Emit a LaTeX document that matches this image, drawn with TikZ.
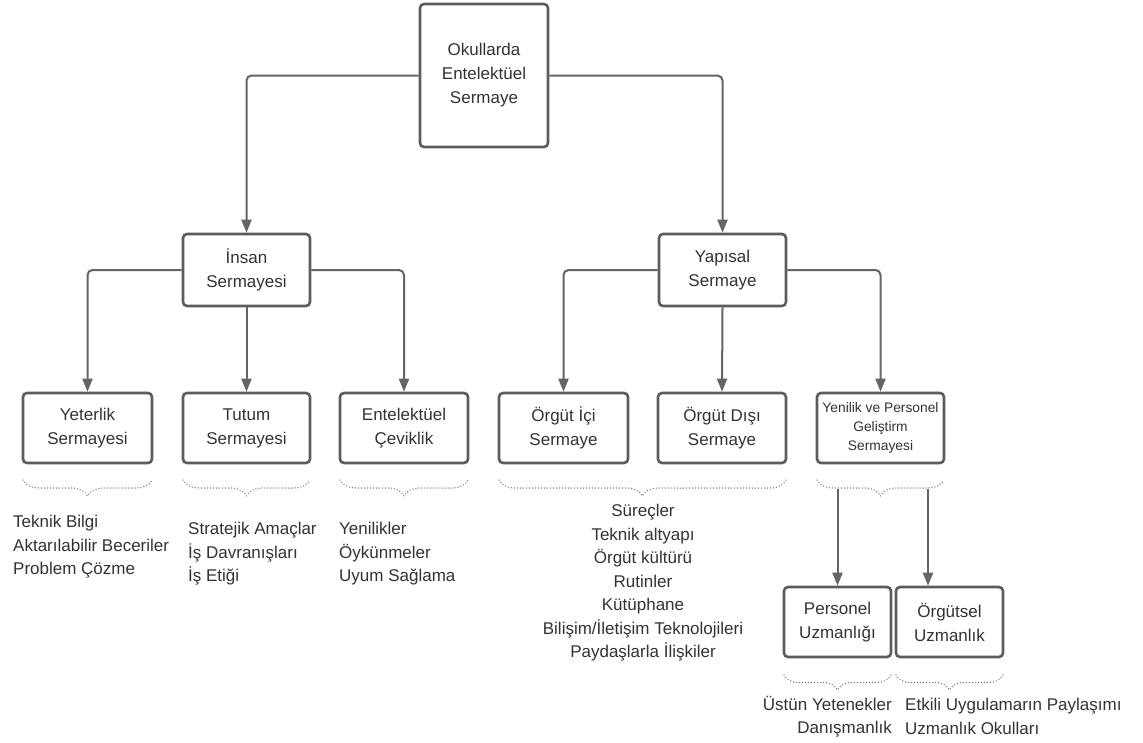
\documentclass[tikz,border=0pt]{standalone}
\usepackage{fontspec}
\setmainfont{Liberation Sans}
\usetikzlibrary{arrows.meta,decorations.pathreplacing}
\definecolor{boxc}{HTML}{5C5C5C}
\definecolor{linec}{HTML}{656565}
\definecolor{txt}{HTML}{333333}
\definecolor{dotc}{HTML}{7A7A7A}
\begin{document}
\begin{tikzpicture}[x=1pt,y=-1pt,
  box/.style={draw=boxc, line width=2.6pt, rounded corners=4pt, fill=white,
    align=center, text=txt, inner sep=0pt,
    font=\fontsize{17pt}{24pt}\selectfont},
  smallbox/.style={box, font=\fontsize{13.8pt}{19pt}\selectfont},
  conn/.style={draw=linec, line width=2pt, rounded corners=5pt,
    -{Triangle[width=10pt,length=13pt]}},
  dotbrace/.style={draw=dotc, line width=1.5pt, line cap=round,
    dash pattern=on 0.01pt off 3pt,
    decorate, decoration={brace, mirror, amplitude=#1}},
  dotbrace/.default=16pt,
  items/.style={text=txt, inner sep=0pt,
    font=\fontsize{17pt}{23.5pt}\selectfont}
]
\useasboundingbox[fill=white] (0,0) rectangle (1143,742);

% boxes
\node[box, minimum width=128pt, minimum height=143pt] (top) at (484,75.5)
  {Okullarda\\Entelektüel\\Sermaye};
\node[box, minimum width=127pt, minimum height=72pt] (insan) at (246.5,270)
  {İnsan\\Sermayesi};
\node[box, minimum width=127pt, minimum height=72pt] (yapisal) at (722.5,270)
  {Yapısal\\Sermaye};

\node[box, minimum width=129pt, minimum height=70pt] (yeterlik) at (87.5,428)
  {Yeterlik\\Sermayesi};
\node[box, minimum width=127pt, minimum height=70pt] (tutum) at (246.5,428)
  {Tutum\\Sermayesi};
\node[box, minimum width=128pt, minimum height=70pt] (ceviklik) at (404,428)
  {Entelektüel\\Çeviklik};
\node[box, minimum width=129pt, minimum height=70pt] (ici) at (563.5,428)
  {Örgüt İçi\\Sermaye};
\node[box, minimum width=128pt, minimum height=70pt] (disi) at (722,428)
  {Örgüt Dışı\\Sermaye};
\node[smallbox, minimum width=127pt, minimum height=70pt] (yenilik) at (880.5,428)
  {Yenilik ve Personel\\Geliştirm\\Sermayesi};

\node[box, minimum width=107pt, minimum height=70pt] (personel) at (837.5,622)
  {Personel\\Uzmanlığı};
\node[box, minimum width=107pt, minimum height=70pt] (orgutsel) at (949.5,622)
  {Örgütsel\\Uzmanlık};

% connectors
\draw[conn] (top.west) -| (insan.north);
\draw[conn] (top.east) -| (yapisal.north);
\draw[conn] (insan.west) -| (yeterlik.north);
\draw[conn] (insan.south) -- (tutum.north);
\draw[conn] (insan.east) -| (ceviklik.north);
\draw[conn] (yapisal.west) -| (ici.north);
\draw[conn] (yapisal.south) -- (disi.north);
\draw[conn] (yapisal.east) -| (yenilik.north);

% dotted braces
\draw[dotbrace] (23,480) -- (152,480);
\draw[dotbrace] (183,480) -- (310,480);
\draw[dotbrace] (340,480) -- (468,480);
\draw[dotbrace] (499,480) -- (786,480);
\draw[dotbrace] (817,480) -- (944,480);
\draw[dotbrace=15pt] (784,675) -- (891,675);
\draw[dotbrace=15pt] (896,675) -- (1003,675);

% arrows from the brace of the last box
\coordinate (ya) at (837.5,489);
\coordinate (yb) at (928,489);
\draw[conn] (ya) -- (personel.north);
\draw[conn] (yb) -- (yb |- orgutsel.north);

% item lists
\node[items, align=left, anchor=west] (lyet) at (13,547)
  {Teknik Bilgi\\Aktarılabilir Beceriler\\Problem Çözme};
\node[items, align=left, anchor=west] (ltut) at (188,554)
  {Stratejik Amaçlar\\İş Davranışları\\İş Etiği};
\node[items, align=left, anchor=west] (lcev) at (339,554)
  {Yenilikler\\Öykünmeler\\Uyum Sağlama};
\node[items, align=center] (lorg) at (643,583)
  {Süreçler\\Teknik altyapı\\Örgüt kültürü\\Rutinler\\Kütüphane\\Bilişim/İletişim Teknolojileri\\Paydaşlarla İlişkiler};
\node[items, align=right, anchor=east] (lper) at (892,716.5)
  {Üstün Yetenekler\\Danışmanlık};
\node[items, align=left, anchor=west] (lout) at (905,716.5)
  {Etkili Uygulamarın Paylaşımı\\Uzmanlık Okulları};
\end{tikzpicture}
\end{document}
